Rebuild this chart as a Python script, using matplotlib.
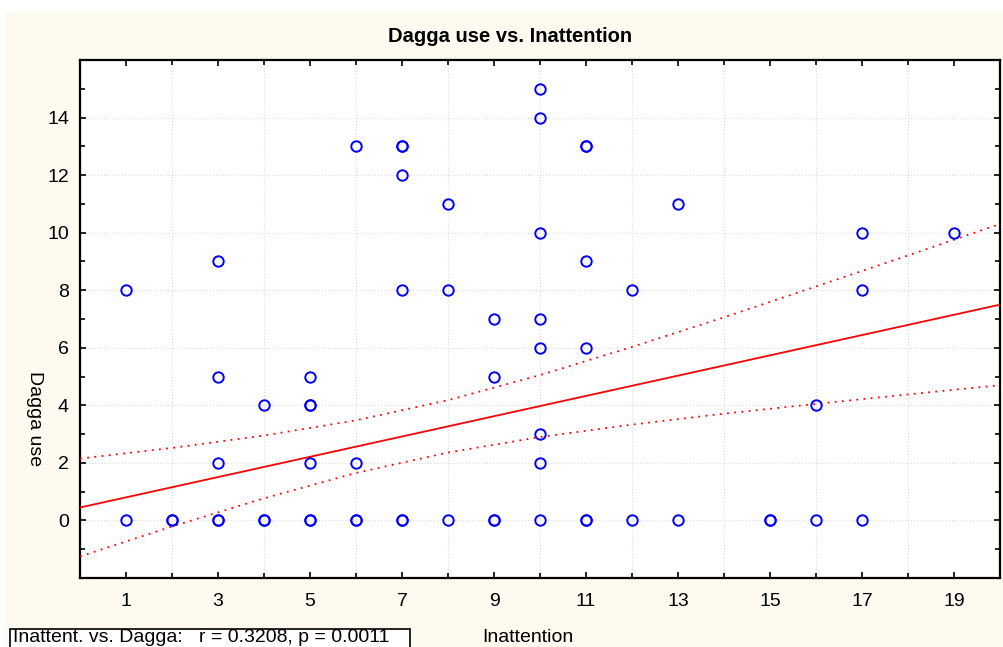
import numpy as np
import matplotlib
matplotlib.use("Agg")
import matplotlib.pyplot as plt
from matplotlib.patches import Rectangle
from matplotlib.ticker import FixedLocator

plt.rcParams['font.family'] = ['Liberation Sans', 'DejaVu Sans']

# Inattention scores (x) and dagga use (y); repeated pairs are overplotted
inattention = [1, 1, 2, 2, 3, 3, 3, 3, 3, 4, 4, 4,
               5, 5, 5, 5, 5, 5, 6, 6, 6, 6,
               7, 7, 7, 7, 7, 7, 8, 8, 8, 9, 9, 9, 9,
               10, 10, 10, 10, 10, 10, 10, 10,
               11, 11, 11, 11, 11, 11, 12, 12, 13, 13,
               15, 15, 16, 16, 17, 17, 17, 19]
dagga = [8, 0, 0, 0, 9, 5, 2, 0, 0, 4, 0, 0,
         5, 4, 4, 2, 0, 0, 13, 2, 0, 0,
         13, 13, 12, 8, 0, 0, 11, 8, 0, 7, 5, 0, 0,
         15, 14, 10, 7, 6, 3, 2, 0,
         13, 13, 9, 6, 0, 0, 8, 0, 11, 0,
         0, 0, 4, 0, 10, 8, 0, 10]

# regression line with 95% confidence band
fit_x = [0, 2, 4, 6, 8, 10, 12, 14, 16, 18, 20]
fit_y = [0.45, 1.155, 1.86, 2.565, 3.27, 3.975, 4.68, 5.385, 6.09, 6.795, 7.50]
fit_upper = [2.15, 2.52, 2.95, 3.48, 4.18, 5.05, 6.03, 7.06, 8.13, 9.21, 10.30]
fit_lower = [-1.25, -0.21, 0.77, 1.65, 2.36, 2.90, 3.33, 3.71, 4.05, 4.38, 4.70]

stats_text = "Inattent. vs. Dagga:   r = 0.3208, p = 0.0011"

fig = plt.figure(figsize=(10.04, 6.47), dpi=100, facecolor='white')
cream = '#FEFAF0'
fig.patches.append(Rectangle((5 / 1004, 0), 1, 1 - 12 / 647, transform=fig.transFigure,
                             facecolor=cream, edgecolor='none', zorder=-10))

ax = fig.add_axes([80 / 1004, 1 - 578 / 647, 920 / 1004, 518 / 647])
ax.set_facecolor('white')

ax.plot(fit_x, fit_y, color='#FF0000', lw=1.3, zorder=3)
ax.plot(fit_x, fit_upper, color='#FF0000', lw=1.3, linestyle=(0, (1, 3)), zorder=3)
ax.plot(fit_x, fit_lower, color='#FF0000', lw=1.3, linestyle=(0, (1, 3)), zorder=3)
ax.plot(inattention, dagga, linestyle='none', marker='o', markersize=7.5,
        markerfacecolor='none', markeredgecolor='#0000FF', markeredgewidth=1.4, zorder=4)

ax.set_xlim(0, 20)
ax.set_ylim(-2, 16)
ax.xaxis.set_major_locator(FixedLocator(range(1, 20, 2)))
ax.xaxis.set_minor_locator(FixedLocator(range(2, 20, 2)))
ax.yaxis.set_major_locator(FixedLocator(range(0, 16, 2)))
ax.yaxis.set_minor_locator(FixedLocator(range(-1, 16, 2)))

ax.tick_params(which='both', direction='in', top=True, right=True, width=1.2, colors='black')
ax.tick_params(which='major', length=4)
ax.tick_params(which='minor', length=3.5)
ax.tick_params(axis='x', labelsize=14, pad=11)
ax.tick_params(axis='y', labelsize=14, pad=8)

ax.grid(which='minor', axis='x', color='#dddddd', linestyle=':', lw=0.8)
ax.grid(which='major', axis='y', color='#dddddd', linestyle=':', lw=0.8)
ax.set_axisbelow(True)
for sp in ax.spines.values():
    sp.set_linewidth(1.6)

fig.text(510 / 1004, 1 - 36 / 647, 'Dagga use vs. Inattention', ha='center', va='center',
         fontsize=14.5, fontweight='bold')
fig.text(35 / 1004, 1 - 419 / 647, 'Dagga use', rotation=270, ha='center', va='center',
         fontsize=14)
fig.text(528 / 1004, 1 - 637 / 647, 'Inattention', ha='center', va='center', fontsize=14)
fig.text(13 / 1004, 1 - 637 / 647, stats_text, ha='left', va='center', fontsize=14)
fig.patches.append(Rectangle((9.5 / 1004, -0.05), 401 / 1004, 0.05 + (647 - 628.5) / 647,
                             transform=fig.transFigure, facecolor='white',
                             edgecolor='black', lw=1.2, zorder=-5))

fig.savefig('out.png', dpi=100, facecolor=fig.get_facecolor())
